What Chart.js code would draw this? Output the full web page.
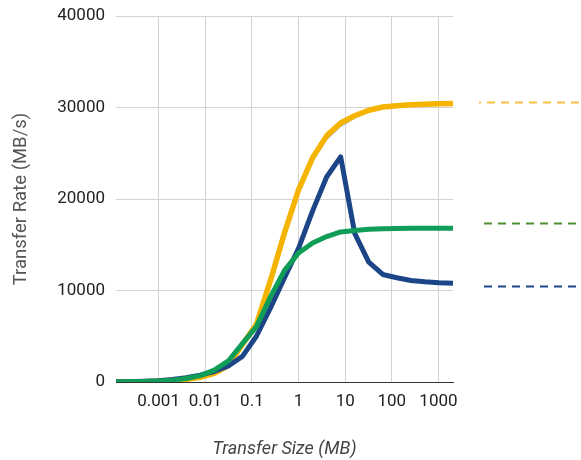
<!DOCTYPE html>
<html lang="en">
<head>
    <meta charset="UTF-8">
    <title>Transfer Rate vs Transfer Size</title>
    <style>
        html, body { margin: 0; padding: 0; background: #fff; }
        #wrap { width: 581px; height: 460px; }
    </style>
</head>
<body>
    <div id="wrap"><canvas id="rateChart" width="581" height="460"></canvas></div>

    <script src="https://cdn.jsdelivr.net/npm/chart.js@4.4.1/dist/chart.umd.min.js"></script>
    <script>
        // transfer sizes in MB (128 B ... 2 GB)
        const sizesMB = [
            0.0001220703125, 0.000244140625, 0.00048828125, 0.0009765625,
            0.001953125, 0.00390625, 0.0078125, 0.015625, 0.03125, 0.0625,
            0.125, 0.25, 0.5, 1, 2, 4, 8, 16, 32, 64, 128, 256, 512, 1024, 2048
        ];

        // transfer rates in MB/s
        const yellowRates = [10, 20, 40, 80, 150, 280, 520, 950, 1800, 4100, 6300, 11100, 16300,
            21000, 24500, 26900, 28300, 29100, 29700, 30050, 30200, 30300, 30350, 30400, 30450];
        const lightBlueRates = [10, 20, 40, 80, 150, 280, 520, 950, 1800, 4100, 6300, 11100, 16300,
            20900, 24150, 26500, 27950, 28850, 29600, 30050, 30200, 30300, 30350, 30400, 30450];
        const blueRates = [20, 40, 80, 150, 280, 480, 750, 1150, 1750, 2800, 5000, 8100, 11400,
            14600, 18700, 22400, 24600, 16250, 13100, 11750, 11400, 11100, 10950, 10850, 10800];
        const greenRates = [12, 25, 50, 100, 200, 380, 700, 1300, 2300, 4200, 6050, 9300, 12200,
            14100, 15200, 15900, 16400, 16550, 16700, 16750, 16780, 16800, 16800, 16800, 16800];

        // dashed reference levels drawn to the right of the plot
        const refLevels = [30550, 17350, 10500];
        const refColors = ['#f6c343', '#4e8f32', '#1c4587'];
        const refStartX = [479, 484, 484];
        const refOffsets = [6, 0, 0];

        const xTickValues = [0.001, 0.01, 0.1, 1, 10, 100, 1000];
        const xTickLabels = ['0.001', '0.01', '0.1', '1', '10', '100', '1000'];

        function toPoints(rates) {
            return sizesMB.map((s, i) => ({ x: s, y: rates[i] }));
        }

        const refLinesPlugin = {
            id: 'refLines',
            afterDraw(chart) {
                const ctx = chart.ctx;
                const y = chart.scales.y;
                ctx.save();
                ctx.lineWidth = 2;
                ctx.setLineDash([8, 6]);
                refLevels.forEach((v, i) => {
                    const py = Math.round(y.getPixelForValue(v)) + 0.5;
                    ctx.strokeStyle = refColors[i];
                    ctx.lineDashOffset = refOffsets[i];
                    ctx.beginPath();
                    ctx.moveTo(refStartX[i], py);
                    ctx.lineTo(chart.width, py);
                    ctx.stroke();
                });
                ctx.restore();
            }
        };

        const tickFont = { family: 'Roboto', size: 17 };

        new Chart(document.getElementById('rateChart'), {
            type: 'line',
            data: {
                datasets: [
                    { data: toPoints(greenRates), borderColor: '#0f9d58', borderWidth: 5, order: 0 },
                    { data: toPoints(blueRates), borderColor: '#1c4587', borderWidth: 5, order: 1 },
                    { data: toPoints(yellowRates), borderColor: '#f4b400', borderWidth: 5.5, order: 2 },
                    { data: toPoints(lightBlueRates), borderColor: '#9dbde6', borderWidth: 1.5, order: 3 }
                ]
            },
            options: {
                responsive: false,
                animation: false,
                layout: { padding: { left: 0, right: 128, top: 16, bottom: 0 } },
                elements: {
                    point: { radius: 0 },
                    line: { tension: 0, borderJoinStyle: 'round', borderCapStyle: 'butt', fill: false }
                },
                plugins: {
                    legend: { display: false },
                    tooltip: { enabled: false }
                },
                scales: {
                    x: {
                        type: 'logarithmic',
                        min: sizesMB[0],
                        max: sizesMB[sizesMB.length - 1],
                        afterBuildTicks(scale) {
                            scale.ticks = xTickValues.map(v => ({ value: v }));
                        },
                        afterFit(scale) {
                            scale.height = 78;
                            scale.paddingLeft = 0;
                            scale.paddingRight = 0;
                        },
                        ticks: {
                            autoSkip: false,
                            maxRotation: 0,
                            padding: 10,
                            color: '#222',
                            font: tickFont,
                            callback: (v) => xTickLabels[xTickValues.indexOf(v)]
                        },
                        grid: { color: '#d3d3d3', lineWidth: 1, drawTicks: false },
                        border: { display: true, color: '#333', width: 1 },
                        title: {
                            display: true,
                            text: 'Transfer Size (MB)',
                            color: '#444',
                            font: { family: 'Roboto', size: 18, style: 'italic' },
                            padding: { top: 0, bottom: 0 }
                        }
                    },
                    y: {
                        min: 0,
                        max: 40000,
                        afterFit(scale) {
                            scale.width = 116;
                            scale.paddingTop = 0;
                            scale.paddingBottom = 0;
                        },
                        ticks: {
                            stepSize: 10000,
                            padding: 11,
                            color: '#222',
                            font: tickFont,
                            callback: (v) => String(v)
                        },
                        grid: { color: '#d3d3d3', lineWidth: 1, drawTicks: false },
                        border: { display: false },
                        title: {
                            display: true,
                            text: 'Transfer Rate (MB/s)',
                            color: '#555',
                            font: { family: 'Roboto', size: 18.5 },
                            padding: { top: 10, bottom: 0 }
                        }
                    }
                }
            },
            plugins: [refLinesPlugin]
        });
    </script>
</body>
</html>
